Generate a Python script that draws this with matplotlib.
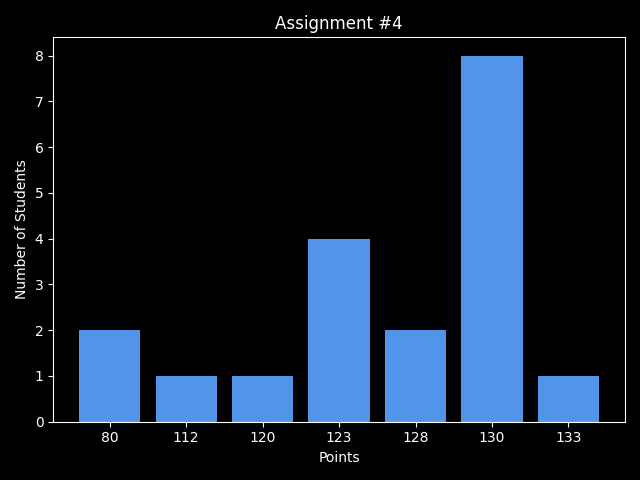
import matplotlib
matplotlib.use("Agg")
import matplotlib.pyplot as plt

plt.style.use('dark_background')

points = ["80", "112", "120", "123", "128", "130", "133"]
students = [2, 1, 1, 4, 2, 8, 1]

fig, ax = plt.subplots(figsize=(6.4, 4.8), dpi=100)
ax.bar(points, students, color="#5294E8")
ax.set_title("Assignment #4")
ax.set_xlabel("Points")
ax.set_ylabel("Number of Students")
fig.tight_layout()
fig.savefig("out.png")
